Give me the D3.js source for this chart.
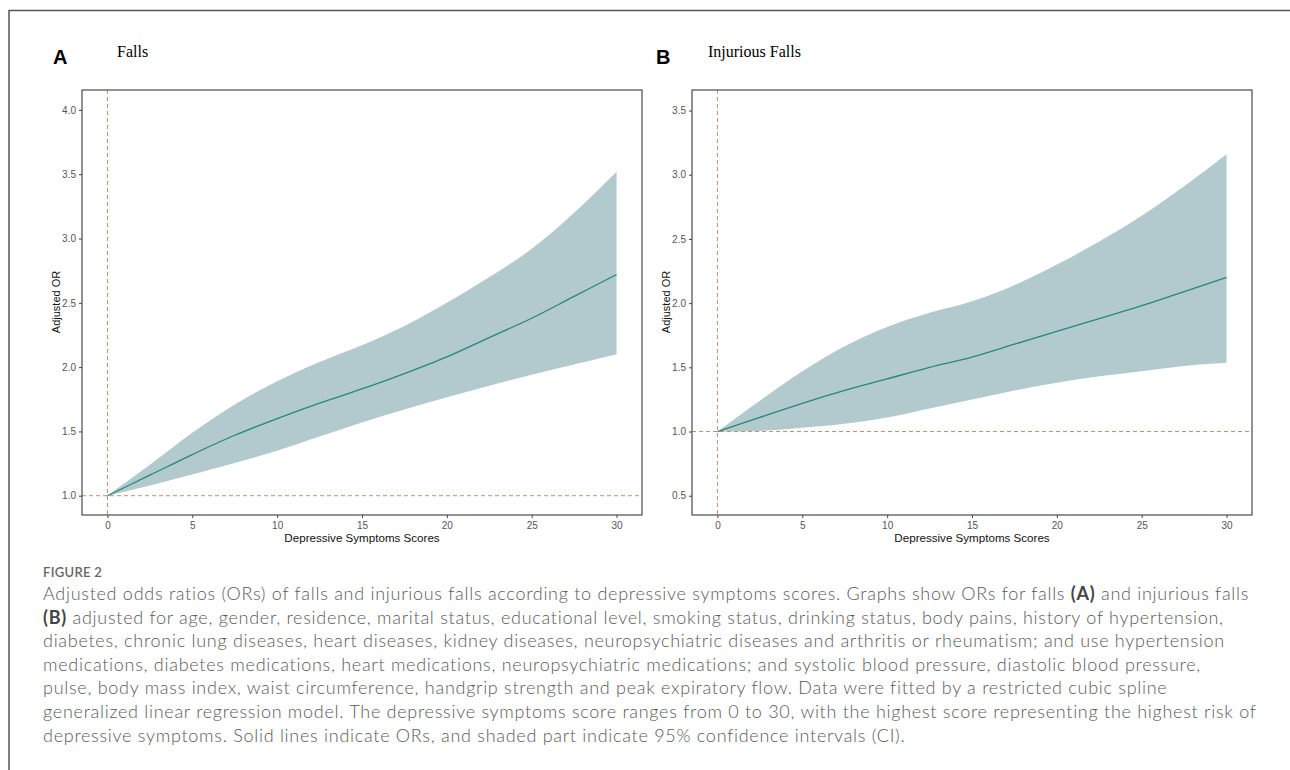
<!DOCTYPE html>
<html>
<head>
<meta charset="utf-8">
<script src="https://cdn.jsdelivr.net/npm/d3@7"></script>
<style>
  body { margin: 0; background: #fff; }
  svg { display: block; }
</style>
</head>
<body>
<svg width="1290" height="770"></svg>
<script>
// depressive symptoms scores (x positions shared by both panels)
var scores = [0, 2.5, 5, 7.5, 10, 12.5, 15, 17.5, 20, 22.5, 25, 27.5, 30];

// panel A - falls
var fallsOR    = [1.00, 1.16, 1.32, 1.47, 1.60, 1.72, 1.83, 1.95, 2.08, 2.23, 2.38, 2.55, 2.72];
var fallsUpper = [1.00, 1.24, 1.49, 1.71, 1.89, 2.04, 2.17, 2.32, 2.50, 2.70, 2.92, 3.20, 3.52];
var fallsLower = [1.00, 1.08, 1.165, 1.255, 1.35, 1.46, 1.57, 1.67, 1.765, 1.855, 1.94, 2.02, 2.10];

// panel B - injurious falls
var injOR    = [1.00, 1.11, 1.22, 1.32, 1.41, 1.50, 1.58, 1.68, 1.78, 1.88, 1.98, 2.09, 2.20];
var injUpper = [1.00, 1.24, 1.47, 1.665, 1.815, 1.925, 2.015, 2.14, 2.30, 2.48, 2.68, 2.91, 3.16];
var injLower = [1.00, 1.005, 1.03, 1.06, 1.11, 1.18, 1.25, 1.32, 1.38, 1.43, 1.47, 1.51, 1.535];

var xTicks = [0, 5, 10, 15, 20, 25, 30];
var fallsTicks = [1.0, 1.5, 2.0, 2.5, 3.0, 3.5, 4.0];
var injTicks = [0.5, 1.0, 1.5, 2.0, 2.5, 3.0, 3.5];

var svg = d3.select("svg");

// outer figure frame (top and left only)
svg.append("path")
    .attr("d", "M9,770V10.5H1290")
    .attr("fill", "none")
    .attr("stroke", "#555")
    .attr("stroke-width", 1.5);

function drawPanel(p) {
  var x = d3.scaleLinear().domain([-1.5, 31.5]).range([p.left, p.right]),
      y = d3.scaleLinear().domain(p.yDomain).range([515, 90]);

  var rows = scores.map(function(s, i) {
    return {s: s, or: p.or[i], lo: p.lower[i], hi: p.upper[i]};
  });

  var g = svg.append("g");

  // letter + title
  g.append("text")
      .attr("x", p.letterX).attr("y", 64)
      .style("font", "bold 20px 'Liberation Sans', Arial, sans-serif")
      .text(p.letter);
  g.append("text")
      .attr("x", p.titleX).attr("y", 57)
      .style("font", "16px 'Liberation Serif', 'Times New Roman', serif")
      .text(p.title);

  // CI ribbon
  g.append("path")
      .datum(rows)
      .attr("fill", "#b2c9ce")
      .attr("d", d3.area()
          .curve(d3.curveCatmullRom)
          .x(function(d) { return x(d.s); })
          .y0(function(d) { return y(d.lo); })
          .y1(function(d) { return y(d.hi); }));

  // reference lines
  g.append("line")
      .attr("x1", x(0)).attr("x2", x(0))
      .attr("y1", 90).attr("y2", 515)
      .attr("stroke", "#bf9270").attr("stroke-dasharray", "4,3").attr("stroke-width", 1);
  g.append("line")
      .attr("x1", p.left).attr("x2", p.right)
      .attr("y1", y(1)).attr("y2", y(1))
      .attr("stroke", "#bf9270").attr("stroke-dasharray", "4,3").attr("stroke-width", 1);

  // OR line
  g.append("path")
      .datum(rows)
      .attr("fill", "none")
      .attr("stroke", "#27877c")
      .attr("stroke-width", 1.3)
      .attr("d", d3.line()
          .curve(d3.curveCatmullRom)
          .x(function(d) { return x(d.s); })
          .y(function(d) { return y(d.or); }));

  // panel border
  g.append("rect")
      .attr("x", p.left).attr("y", 90)
      .attr("width", p.right - p.left).attr("height", 425)
      .attr("fill", "none").attr("stroke", "#4a4a4a").attr("stroke-width", 1.2);

  // axes
  var ax = g.append("g")
      .attr("transform", "translate(0,515)")
      .call(d3.axisBottom(x).tickValues(xTicks).tickSize(3).tickPadding(4));
  var ay = g.append("g")
      .attr("transform", "translate(" + p.left + ",0)")
      .call(d3.axisLeft(y).tickValues(p.ticks).tickFormat(d3.format(".1f")).tickSize(3).tickPadding(3));
  [ax, ay].forEach(function(a) {
    a.select(".domain").remove();
    a.selectAll(".tick line").attr("stroke", "#444");
    a.selectAll(".tick text")
        .attr("fill", "#555")
        .style("font", "10px 'Liberation Sans', Arial, sans-serif");
  });

  // axis titles
  g.append("text")
      .attr("x", (p.left + p.right) / 2).attr("y", 542)
      .attr("text-anchor", "middle")
      .style("font", "11.6px 'Liberation Sans', Arial, sans-serif")
      .attr("fill", "#111")
      .text("Depressive Symptoms Scores");
  g.append("text")
      .attr("transform", "translate(" + (p.left - 22) + "," + 302 + ") rotate(-90)")
      .attr("text-anchor", "middle")
      .style("font", "11px 'Liberation Sans', Arial, sans-serif")
      .attr("fill", "#111")
      .text("Adjusted OR");
}

drawPanel({letter: "A", title: "Falls", left: 82, right: 642, letterX: 53, titleX: 117,
           yDomain: [0.85, 4.155], ticks: fallsTicks, or: fallsOR, upper: fallsUpper, lower: fallsLower});
drawPanel({letter: "B", title: "Injurious Falls", left: 692, right: 1252, letterX: 656, titleX: 708,
           yDomain: [0.35, 3.66], ticks: injTicks, or: injOR, upper: injUpper, lower: injLower});

// caption
var caption = [
  ["Adjusted odds ratios (ORs) of falls and injurious falls according to depressive symptoms scores. Graphs show ORs for falls ", ["(A)"], " and injurious falls"],
  [["(B)"], " adjusted for age, gender, residence, marital status, educational level, smoking status, drinking status, body pains, history of hypertension,"],
  ["diabetes, chronic lung diseases, heart diseases, kidney diseases, neuropsychiatric diseases and arthritis or rheumatism; and use hypertension"],
  ["medications, diabetes medications, heart medications, neuropsychiatric medications; and systolic blood pressure, diastolic blood pressure,"],
  ["pulse, body mass index, waist circumference, handgrip strength and peak expiratory flow. Data were fitted by a restricted cubic spline"],
  ["generalized linear regression model. The depressive symptoms score ranges from 0 to 30, with the highest score representing the highest risk of"],
  ["depressive symptoms. Solid lines indicate ORs, and shaded part indicate 95% confidence intervals (CI)."]
];

svg.append("text")
    .attr("x", 43).attr("y", 577)
    .attr("fill", "#666")
    .style("font", "600 13px Lato, 'Open Sans', sans-serif")
    .style("letter-spacing", "0.3px")
    .text("FIGURE 2");

var cap = svg.append("text")
    .attr("fill", "#5a5a5a")
    .style("font", "300 18px Lato, 'Open Sans', sans-serif");

var lines = [];
caption.forEach(function(line, i) {
  var t = cap.append("tspan").attr("x", 43).attr("y", 600 + i * 23.6);
  line.forEach(function(part) {
    if (Array.isArray(part)) {
      t.append("tspan").style("font-weight", 700).attr("fill", "#444").text(part[0]);
    } else {
      t.append("tspan").text(part);
    }
  });
  lines.push(t);
});

// widen letter spacing so the first line spans the same width as the original
var first = lines[0].node().getComputedTextLength(),
    nChars = lines[0].text().length,
    spacing = (1207 - first) / nChars;
cap.style("letter-spacing", spacing.toFixed(2) + "px");
</script>
</body>
</html>
